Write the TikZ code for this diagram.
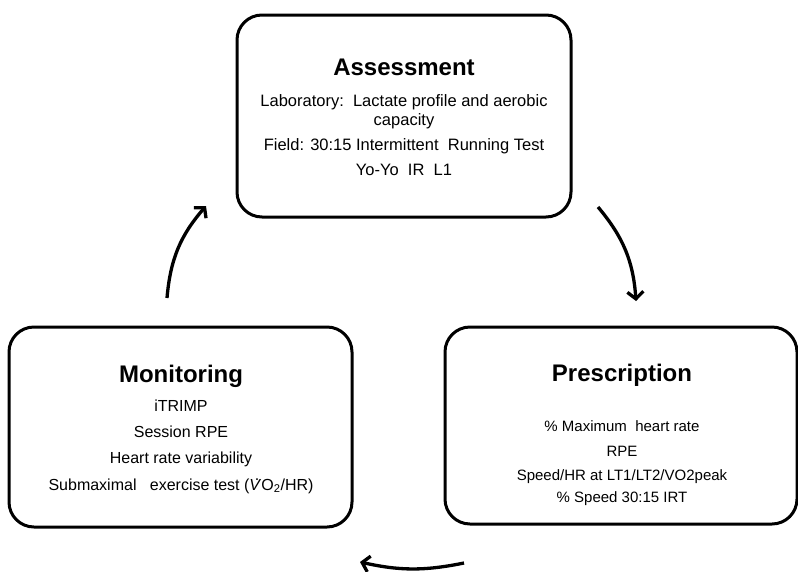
\documentclass[tikz,border=0pt]{standalone}
\usepackage{fontspec}
\setmainfont{Liberation Sans}
\usetikzlibrary{arrows.meta}
\newcommand{\Vdot}{\leavevmode\rlap{\hspace{0.34em}\smash{\raisebox{0.58em}{.}}}\textit{V}}
\begin{document}
\begin{tikzpicture}[x=1pt,y=-1pt,
  boxstyle/.style={draw=black, line width=3pt, rounded corners=25pt},
  ttl/.style={anchor=base, inner sep=0pt, font=\fontsize{24}{28}\selectfont\bfseries},
  txtA/.style={anchor=base, inner sep=0pt, font=\fontsize{16.5}{19}\selectfont},
  txtM/.style={anchor=base, inner sep=0pt, font=\fontsize{16}{19}\selectfont},
  txtP/.style={anchor=base, inner sep=0pt, font=\fontsize{15}{18}\selectfont},
  cyc/.style={line width=3.3pt, -{Straight Barb[length=7pt,width=16pt]}, bend left=18}]
\useasboundingbox (0,0) rectangle (798,571);
% boxes
\draw[boxstyle] (237,15) rectangle (571,217);
\draw[boxstyle] (9,327) rectangle (352,527);
\draw[boxstyle] (445,327) rectangle (797,524);
% Assessment
\node[ttl] (at) at (404,75) {Assessment};
\node[txtA] (a1) at (404,106) {Laboratory:\ \ Lactate profile and aerobic};
\node[txtA] (a2) at (404,125) {capacity};
\node[txtA] (a3) at (404,150) {Field: 30:15 Intermittent\ \ Running Test};
\node[txtA] (a4) at (404,175) {Yo-Yo\ \ IR\ \ L1};
% Monitoring
\node[ttl] (mt) at (181,382) {Monitoring};
\node[txtM] (m1) at (181,411) {iTRIMP};
\node[txtM] (m2) at (181,437) {Session RPE};
\node[txtM] (m3) at (181,463) {Heart rate variability};
\node[txtM] (m4) at (181,490) {Submaximal\ \ \ exercise test (\Vdot O\textsubscript{2}/HR)};
% Prescription
\node[ttl] (pt) at (622,381) {Prescription};
\node[txtP] (p1) at (622,431) {\% Maximum\ \ heart rate};
\node[txtP] (p2) at (622,456) {RPE};
\node[txtP] (p3) at (622,480) {Speed/HR at LT1/LT2/VO2peak};
\node[txtP] (p4) at (622,502) {\% Speed 30:15 IRT};
% arrows
\coordinate (l0) at (167,298);
\coordinate (l1) at (206,206);
\coordinate (r0) at (598,207);
\coordinate (r1) at (636,301);
\coordinate (b0) at (464,563);
\coordinate (b1) at (360,562);
\draw[cyc] (l0) to (l1);
\draw[cyc] (r0) to (r1);
\draw[cyc, bend left=12] (b0) to (b1);
\end{tikzpicture}
\end{document}
